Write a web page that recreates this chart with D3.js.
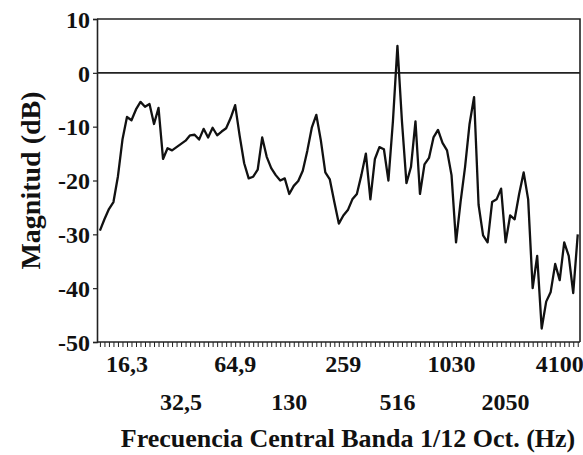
<!DOCTYPE html>
<html>
<head>
<meta charset="utf-8">
<script src="https://cdn.jsdelivr.net/npm/d3@7"></script>
<style>
  body { margin: 0; background: #fff; }
  svg text { font-family: "Liberation Serif", "DejaVu Serif", serif; fill: #111; }
</style>
</head>
<body>
<div id="chart"></div>
<script>
// magnitud por banda de 1/12 de octava (dB), banda 0 ~ 11,5 Hz
var magnitudeDb = [
    -29.3, -27.2, -25.3, -24.0, -19.2, -12.4, -8.2, -8.8, -6.8, -5.4,
    -6.3, -5.8, -9.5, -6.5, -16.0, -14.0, -14.4, -13.8, -13.2, -12.6,
    -11.6, -11.5, -12.4, -10.4, -12.0, -10.2, -11.6, -10.9, -10.3, -8.4,
    -6.0, -11.7, -16.8, -19.6, -19.3, -18.0, -12.0, -15.6, -17.7, -19.0,
    -20.0, -19.6, -22.5, -21.0, -20.1, -18.2, -14.5, -10.2, -7.8, -12.5,
    -18.5, -19.8, -24.0, -28.0, -26.5, -25.5, -23.5, -22.5, -19.0, -15.0,
    -23.5, -16.0, -13.8, -14.2, -20.0, -9.0, 5.0, -9.0, -20.5, -17.5,
    -9.0, -22.5, -17.0, -15.8, -12.0, -10.6, -13.0, -14.4, -19.0, -31.5,
    -24.0, -17.5, -9.5, -4.5, -24.5, -30.2, -31.5, -24.0, -23.5, -21.5,
    -31.5, -26.5, -27.2, -22.5, -18.5, -23.5, -40.0, -34.0, -47.5, -42.5,
    -40.7, -35.5, -38.5, -31.5, -34.0, -40.9, -30.0
];

var xTickLabels = ["16,3", "32,5", "64,9", "130", "259", "516", "1030", "2050", "4100"];
var xTickBands = [6, 18, 30, 42, 54, 66, 78, 90, 102];
var yTicks = [10, 0, -10, -20, -30, -40, -50];

var WIDTH = 583, HEIGHT = 455;
var LEFT = 97, RIGHT = 580, TOP = 19, BOTTOM = 342;

var svg = d3.select("#chart").append("svg")
    .attr("width", WIDTH)
    .attr("height", HEIGHT);

var x = d3.scaleLinear().domain([-0.65, 106.5]).range([LEFT, RIGHT]);
var y = d3.scaleLinear().domain([-50, 10]).range([BOTTOM, TOP]);

// marco superior y derecho
svg.append("path")
    .attr("d", "M" + LEFT + "," + TOP + "H" + RIGHT + "V" + BOTTOM)
    .attr("fill", "none")
    .attr("stroke", "#222")
    .attr("stroke-width", 1.6);

// linea de 0 dB
svg.append("line")
    .attr("x1", LEFT).attr("x2", RIGHT)
    .attr("y1", y(0)).attr("y2", y(0))
    .attr("stroke", "#222")
    .attr("stroke-width", 1.6);

// eje y
var yAxis = svg.append("g")
    .attr("transform", "translate(" + LEFT + ",0)")
    .call(d3.axisLeft(y).tickValues(yTicks).tickSize(4).tickPadding(3)
        .tickFormat(function (d) { return String(d); }));
yAxis.select(".domain").attr("stroke", "#222").attr("stroke-width", 1.6);
yAxis.selectAll(".tick line").attr("stroke", "#222").attr("stroke-width", 1.2);
yAxis.selectAll("text")
    .attr("font-size", 24)
    .attr("font-weight", "bold")
    .attr("dy", "0.34em")
    .style("fill", "#111");

// eje x: una marca por banda
var bands = d3.range(magnitudeDb.length);
var xAxis = svg.append("g")
    .attr("transform", "translate(0," + BOTTOM + ")")
    .call(d3.axisBottom(x).tickValues(bands).tickSize(5).tickFormat(""))
    .call(function (g) { g.select(".domain").attr("d", "M" + LEFT + ",0H" + RIGHT); });
xAxis.select(".domain").attr("stroke", "#222").attr("stroke-width", 1.6);
xAxis.selectAll(".tick line").attr("stroke", "#222").attr("stroke-width", 1);

svg.append("g").selectAll("text")
    .data(xTickLabels)
    .enter().append("text")
    .attr("x", function (d, i) { return x(xTickBands[i]); })
    .attr("y", function (d, i) { return i % 2 === 0 ? 372 : 410; })
    .attr("text-anchor", "middle")
    .attr("font-size", 24)
    .attr("font-weight", "bold")
    .text(function (d) { return d; });

// curva
var line = d3.line()
    .x(function (d, i) { return x(i); })
    .y(function (d) { return y(d); });

svg.append("path")
    .datum(magnitudeDb)
    .attr("d", line)
    .attr("fill", "none")
    .attr("stroke", "#111")
    .attr("stroke-width", 2.3)
    .attr("stroke-linejoin", "round");

// titulos de ejes
svg.append("text")
    .attr("x", 348)
    .attr("y", 447)
    .attr("text-anchor", "middle")
    .attr("font-size", 26)
    .attr("font-weight", "bold")
    .text("Frecuencia Central Banda 1/12 Oct. (Hz)");

svg.append("text")
    .attr("transform", "translate(40," + ((TOP + BOTTOM) / 2) + ")rotate(-90)")
    .attr("text-anchor", "middle")
    .attr("font-size", 28)
    .attr("font-weight", "bold")
    .text("Magnitud (dB)");
</script>
</body>
</html>
